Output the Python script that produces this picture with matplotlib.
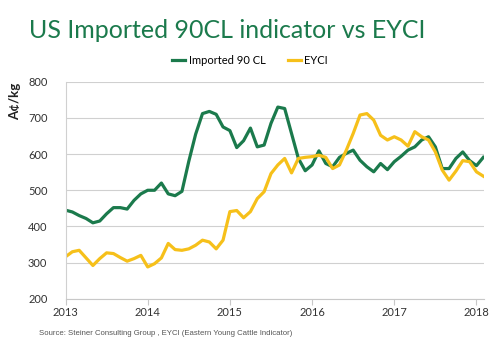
import numpy as np
import pandas as pd
import matplotlib
matplotlib.use('Agg')
import matplotlib.pyplot as plt

# monthly values, Jan 2013 - Feb 2018 (A c/kg)
dates = pd.date_range('2013-01-01', periods=62, freq='MS')
imported_90cl = [445, 440, 430, 422, 410, 415, 435, 452, 452, 448, 472, 490,
                 500, 500, 520, 490, 485, 497, 580, 655, 712, 718, 710, 675,
                 665, 618, 637, 672, 620, 625, 685, 730, 726, 657, 588, 554,
                 570, 609, 574, 565, 591, 602, 611, 583, 565, 551, 574, 557,
                 579, 594, 611, 620, 639, 648, 620, 560, 560, 588, 606, 582,
                 568, 591]
eyci = [316, 330, 334, 313, 292, 311, 327, 325, 314, 304, 311, 320,
        288, 297, 313, 353, 336, 334, 338, 348, 362, 357, 338, 362,
        441, 444, 424, 441, 477, 496, 546, 570, 588, 548, 588, 591,
        593, 597, 591, 560, 570, 611, 657, 708, 712, 694, 652, 639,
        648, 639, 622, 662, 648, 639, 606, 556, 528, 553, 582, 579,
        551, 539]
years = [2013, 2014, 2015, 2016, 2017, 2018]

green = '#1b7a4c'
yellow = '#f6c01a'
font = 'Lato'

fig = plt.figure(figsize=(5, 3.45), dpi=100)
ax = fig.add_axes([0.131, 0.134, 0.837, 0.629])

# x in fractional years
x = [d.year + (d.month - 1) / 12 for d in dates]
ax.plot(x, imported_90cl, color=green, lw=2.3, label='Imported 90 CL', solid_joinstyle='round')
ax.plot(x, eyci, color=yellow, lw=2.3, label='EYCI', solid_joinstyle='round')

ax.set_xlim(2013, 2018 + 1.1 / 12)
ax.set_ylim(200, 800)
ax.set_xticks(years)
ax.set_xticklabels([str(y) for y in years])
ax.set_yticks(range(200, 801, 100))
ax.yaxis.grid(True, color='#d0d0d0', lw=0.8)
ax.set_axisbelow(True)
for s in ['top', 'right']:
    ax.spines[s].set_visible(False)
ax.spines['left'].set_color('#d0d0d0')
ax.spines['bottom'].set_color('#c8c8c8')
ax.tick_params(axis='y', length=0, labelsize=8, labelcolor='#333333', pad=13)
ax.tick_params(axis='x', length=4, color='#c8c8c8', labelsize=8, labelcolor='#333333', pad=2)
for lab in ax.get_xticklabels() + ax.get_yticklabels():
    lab.set_family(font)

fig.text(0.03, 0.707, 'A¢/kg', rotation=90, fontsize=9.5, fontweight='bold',
         family=font, ha='center', va='center', color='#222222')

fig.text(0.058, 0.912, 'US Imported 90CL indicator vs EYCI', fontsize=18,
         color=green, family=font, ha='left', va='center')

fig.legend(loc='center', bbox_to_anchor=(0.5, 0.825), ncol=2, frameon=False,
           handlelength=1.2, handletextpad=0.3, columnspacing=2.0,
           prop={'family': font, 'size': 8})

fig.text(0.078, 0.032, 'Source: Steiner Consulting Group , EYCI (Eastern Young Cattle Indicator)',
         fontsize=5.6, color='#555555', family='Liberation Sans', ha='left', va='center')

fig.savefig('out.png', dpi=100)
